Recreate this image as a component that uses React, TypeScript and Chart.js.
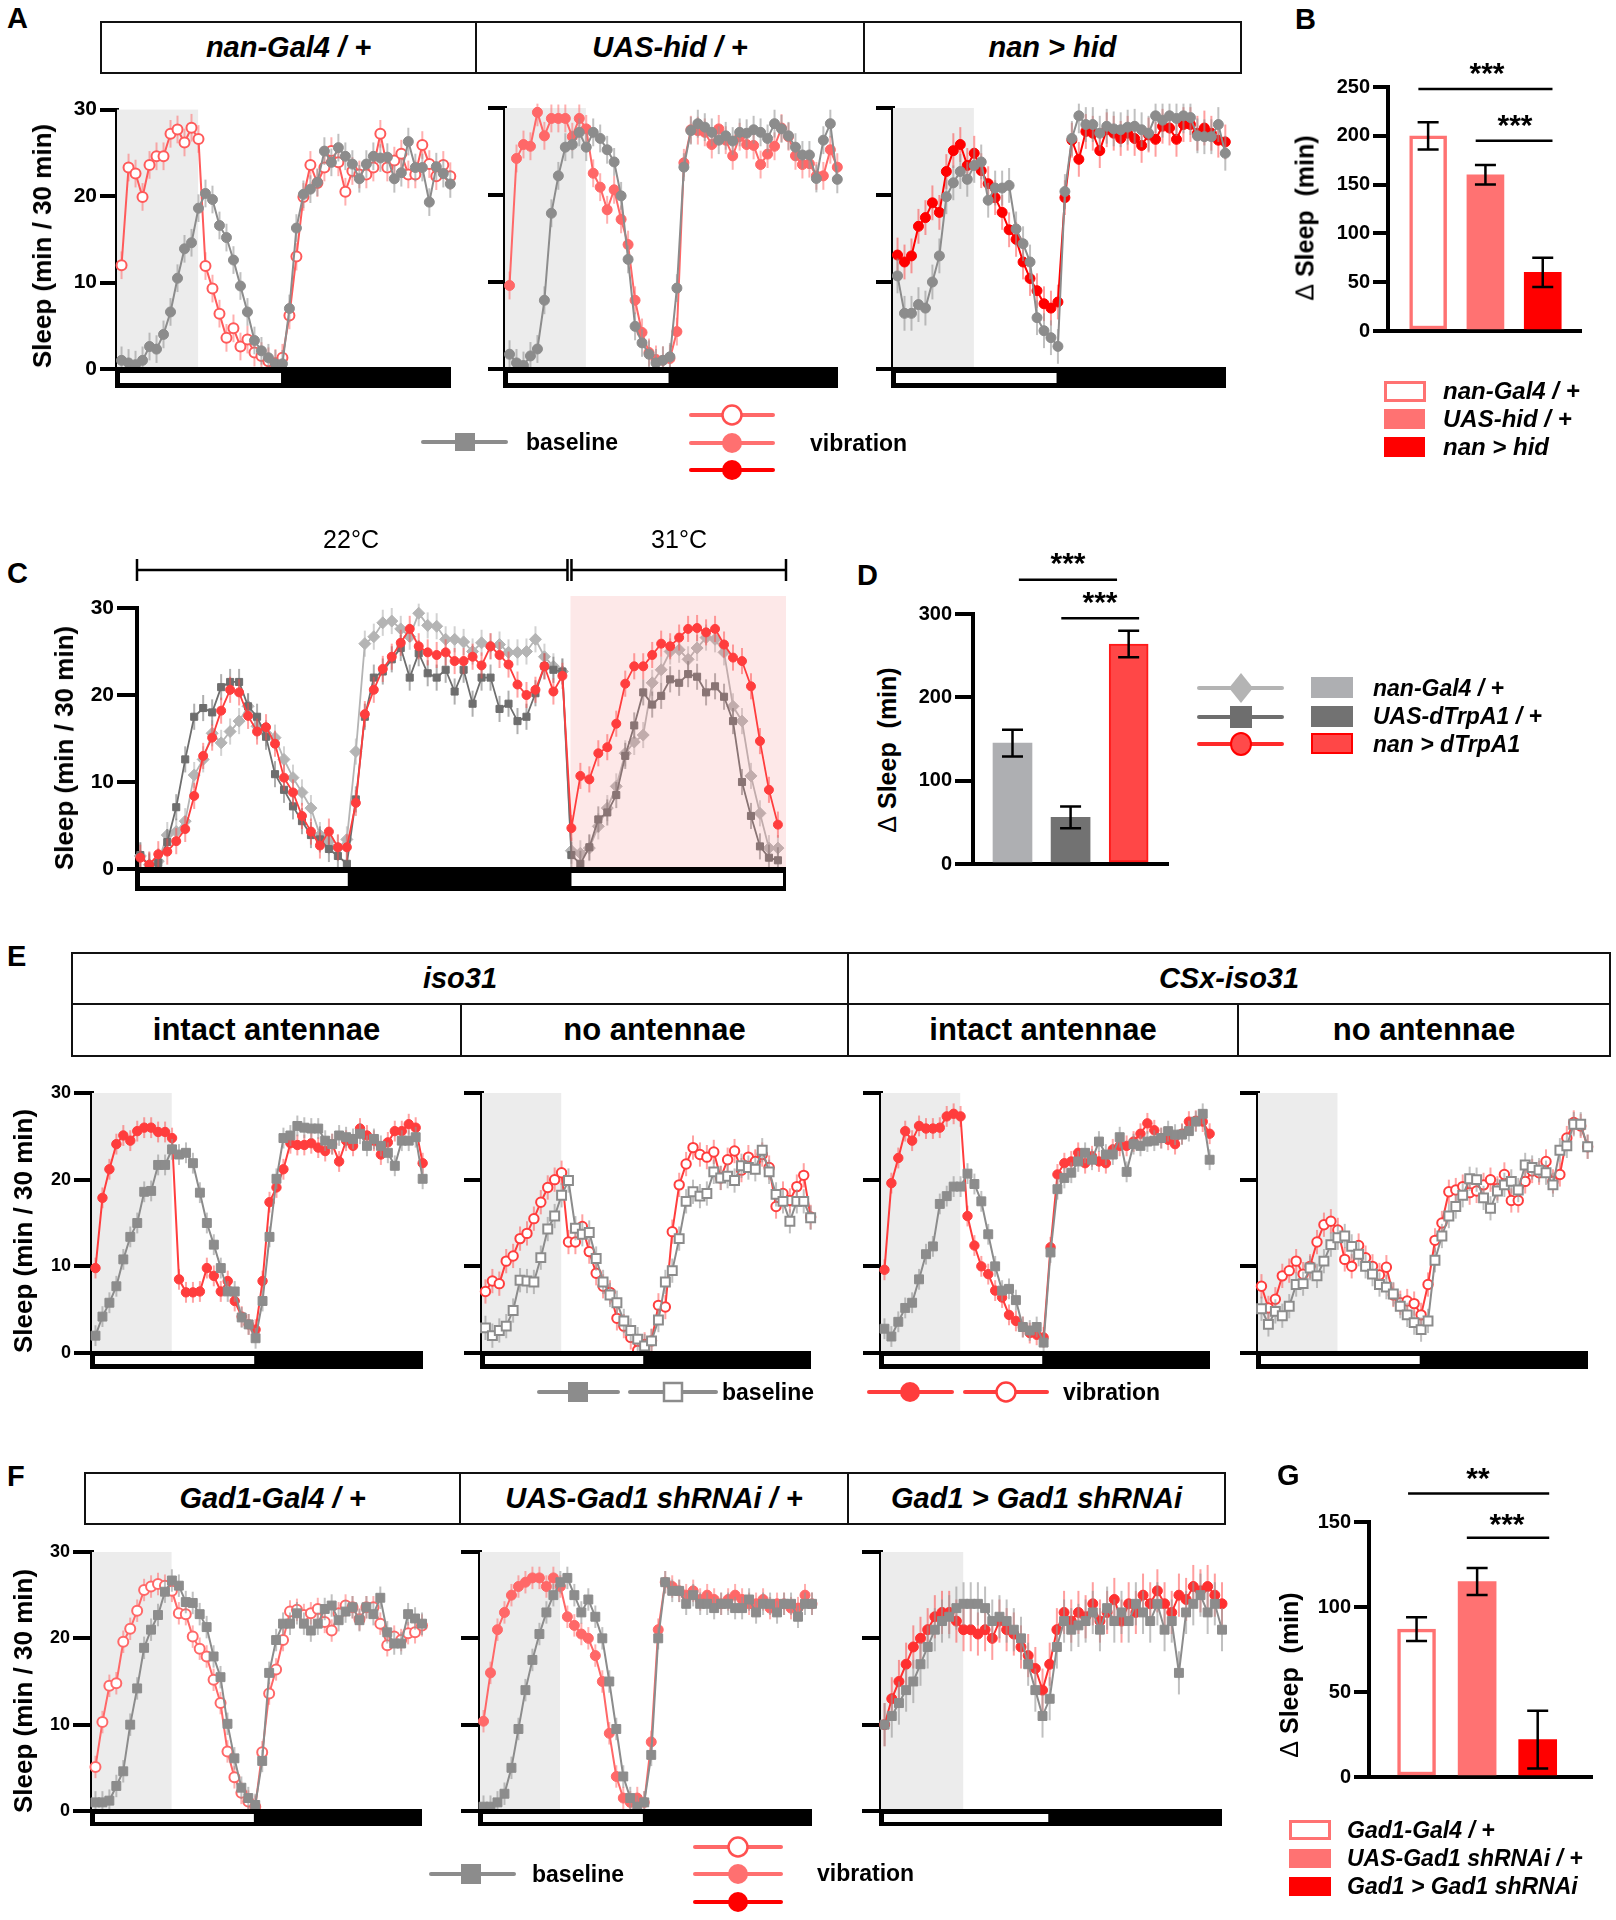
import React, { useEffect, useRef } from "react";
import { Chart, registerables } from "chart.js";
Chart.register(...registerables);

const FONT = '"Liberation Sans", Arial, Helvetica, sans-serif';

// ---------------- tick labels ----------------
const sleepTicks = [0, 10, 20, 30];
const bTicks = [0, 50, 100, 150, 200, 250];
const dTicks = [0, 100, 200, 300];
const gTicks = [0, 50, 100, 150];

// ---------------- Panel A (48 half-hour bins) ----------------
const a1Baseline = [1.0, 0.7, 0.5, 1.0, 2.6, 2.3, 4.0, 6.6, 10.5, 13.9, 14.6, 18.6, 20.3, 19.6, 16.6, 15.2, 12.6, 9.6, 6.6, 3.3, 2.1, 1.3, 0.6, 0.6, 7.0, 16.3, 20.2, 20.8, 21.6, 25.2, 23.9, 25.6, 24.6, 23.7, 22.0, 23.7, 24.6, 24.4, 24.5, 22.0, 22.7, 26.3, 23.3, 23.3, 19.3, 23.4, 22.6, 21.4];
const a1Vibration = [12.0, 23.3, 22.6, 19.9, 23.6, 24.6, 24.6, 27.2, 27.7, 26.2, 27.9, 26.6, 11.9, 9.3, 6.4, 3.6, 4.7, 2.6, 3.4, 1.9, 1.5, 0.9, 0.7, 1.3, 6.2, 13.0, 19.9, 23.6, 21.5, 23.3, 25.2, 23.9, 20.5, 22.9, 22.5, 22.5, 23.3, 27.2, 23.3, 24.1, 24.9, 22.5, 22.5, 25.9, 23.7, 22.3, 23.6, 22.3];
const a2Baseline = [1.7, 0.7, 0.4, 1.5, 2.3, 7.9, 17.9, 22.2, 25.5, 25.8, 27.2, 25.5, 27.2, 26.5, 25.2, 23.8, 19.9, 12.6, 4.9, 3.0, 1.7, 0.7, 1.0, 1.4, 9.3, 23.2, 27.4, 28.2, 27.8, 27.2, 26.3, 26.8, 26.2, 27.2, 27.1, 27.5, 27.2, 26.5, 28.2, 27.6, 26.8, 25.5, 24.6, 24.6, 21.9, 26.3, 28.2, 21.8];
const a2Vibration = [9.6, 24.2, 25.8, 25.6, 29.5, 26.8, 28.8, 28.8, 28.8, 26.7, 28.8, 27.6, 22.5, 20.9, 18.3, 20.6, 17.2, 14.3, 7.9, 4.2, 1.9, 1.1, 1.0, 1.2, 4.3, 23.7, 27.5, 27.4, 27.2, 25.8, 27.6, 26.3, 24.5, 26.7, 25.8, 25.7, 23.5, 24.7, 25.6, 27.7, 26.7, 24.5, 23.5, 23.6, 22.2, 22.2, 25.2, 23.2];
const a3Baseline = [10.7, 6.4, 6.4, 7.4, 7.0, 10.0, 13.0, 19.8, 21.4, 22.7, 21.8, 23.4, 23.8, 19.4, 20.8, 20.8, 21.1, 16.1, 14.4, 12.3, 5.9, 4.4, 3.6, 2.6, 20.4, 26.5, 29.1, 28.1, 28.1, 27.1, 27.9, 27.6, 27.5, 27.8, 27.9, 27.5, 27.1, 29.1, 28.6, 29.1, 28.8, 29.1, 28.9, 26.8, 26.7, 26.7, 28.1, 24.8];
const a3Vibration = [13.1, 12.3, 13.0, 16.4, 17.4, 19.1, 18.0, 22.7, 25.1, 25.8, 23.4, 24.8, 22.8, 21.3, 19.7, 18.0, 16.0, 14.9, 12.3, 10.4, 9.0, 7.5, 7.0, 7.7, 19.7, 26.3, 24.1, 27.3, 27.1, 25.1, 27.5, 27.1, 26.5, 27.1, 26.5, 25.7, 26.9, 26.4, 27.9, 27.7, 26.4, 28.1, 28.1, 27.1, 27.7, 27.1, 26.3, 26.1];

// ---------------- Panel B ----------------
const bGenotypes = ["nan-Gal4 / +", "UAS-hid / +", "nan > hid"];
const bDeltaSleep = [200, 160, 60];
const bSem = [14, 10, 15];

// ---------------- Panel C (72 half-hour bins: 22°C day + 31°C light) ----------------
const cNanGal4 = [1.5, 0.5, 0.9, 3.9, 4.3, 5.5, 10.8, 12.6, 15.6, 14.5, 15.8, 17.0, 18.7, 16.4, 15.6, 15.1, 12.6, 10.5, 8.8, 7.0, 3.9, 3.2, 2.4, 3.4, 13.5, 25.9, 26.7, 28.3, 28.5, 27.6, 26.7, 29.4, 28.0, 27.9, 26.4, 26.4, 26.1, 25.0, 26.0, 25.6, 25.8, 24.9, 24.9, 25.0, 26.4, 24.4, 23.3, 22.7, 2.1, 1.8, 2.4, 4.9, 7.0, 9.5, 13.3, 14.6, 15.4, 21.4, 22.9, 25.0, 25.2, 24.1, 25.4, 26.6, 26.4, 24.9, 18.7, 17.0, 10.7, 6.4, 2.4, 2.4];
const cUasTrpA1 = [1.6, 0.3, 0.7, 3.1, 7.1, 12.6, 17.5, 18.5, 18.0, 20.9, 21.5, 21.5, 18.7, 17.5, 15.2, 10.9, 9.1, 7.2, 5.5, 3.9, 3.4, 2.3, 1.5, 0.6, 8.0, 17.5, 22.0, 22.7, 24.1, 25.4, 22.0, 24.8, 22.5, 22.0, 22.9, 20.4, 22.9, 19.0, 22.0, 22.0, 18.4, 19.0, 17.0, 17.5, 20.2, 23.3, 22.9, 22.7, 1.6, 0.6, 2.5, 5.7, 6.5, 8.5, 13.0, 16.5, 20.3, 18.9, 19.9, 21.8, 21.4, 22.4, 22.1, 20.3, 21.0, 19.8, 17.0, 10.0, 6.1, 2.6, 1.3, 1.0];
const cNanTrpA1 = [1.3, 0.5, 1.7, 2.0, 3.2, 4.6, 8.4, 13.0, 15.1, 18.2, 20.6, 20.3, 17.6, 15.8, 16.3, 14.4, 10.5, 8.8, 6.1, 4.3, 2.7, 4.3, 2.5, 2.5, 7.6, 17.8, 20.6, 23.0, 24.4, 26.0, 27.6, 25.6, 24.9, 24.6, 24.9, 23.9, 23.9, 24.4, 23.4, 25.6, 24.6, 23.5, 21.2, 20.0, 20.6, 23.3, 20.4, 22.2, 4.7, 10.7, 10.3, 13.3, 14.0, 16.7, 21.3, 23.3, 23.3, 24.6, 25.9, 25.6, 26.6, 27.6, 27.7, 27.2, 27.6, 25.8, 24.3, 23.9, 21.0, 14.7, 9.1, 5.1];

// ---------------- Panel D ----------------
const dGenotypes = ["nan-Gal4 / +", "UAS-dTrpA1 / +", "nan > dTrpA1"];
const dDeltaSleep = [145, 56, 264];
const dSem = [16, 13, 16];

// ---------------- Panel E ----------------
const e1Baseline = [2.0, 4.2, 5.8, 7.7, 10.8, 13.4, 15.0, 18.6, 18.7, 21.7, 21.7, 23.5, 22.9, 23.1, 21.9, 18.5, 15.0, 12.5, 9.8, 7.1, 7.1, 4.1, 3.3, 1.7, 6.0, 13.4, 20.1, 24.8, 25.1, 26.2, 26.0, 25.9, 25.9, 24.5, 24.1, 25.1, 24.9, 24.7, 25.3, 23.9, 24.7, 23.9, 23.1, 21.6, 24.5, 24.5, 24.9, 20.1];
const e1Vibration = [9.8, 17.9, 21.2, 24.1, 25.1, 24.5, 25.6, 26.0, 26.0, 25.5, 25.5, 24.8, 8.5, 7.0, 7.0, 7.1, 9.8, 8.9, 7.1, 8.3, 6.0, 4.2, 3.3, 2.7, 8.3, 17.4, 19.1, 21.2, 24.2, 24.0, 24.0, 24.2, 23.7, 23.3, 24.1, 22.1, 24.5, 23.9, 25.9, 25.1, 24.5, 22.9, 24.3, 25.6, 25.6, 26.4, 26.0, 21.9];
const e2Baseline = [2.9, 2.0, 2.6, 3.1, 4.9, 8.4, 8.3, 8.2, 11.0, 14.3, 15.8, 18.2, 19.9, 14.4, 13.7, 13.9, 10.9, 8.2, 6.7, 5.8, 3.7, 2.6, 1.6, 0.8, 1.4, 3.8, 8.2, 9.5, 13.2, 17.5, 18.6, 18.1, 18.4, 20.9, 20.2, 20.4, 19.9, 21.6, 21.4, 21.2, 23.4, 20.9, 18.3, 17.5, 15.2, 17.5, 17.5, 15.6];
const e2Vibration = [7.1, 8.3, 8.0, 10.6, 11.2, 13.2, 13.8, 15.5, 17.4, 19.1, 20.0, 20.8, 12.8, 12.8, 14.6, 11.7, 9.2, 7.7, 7.0, 4.0, 3.1, 1.8, 0.3, 1.0, 1.4, 5.5, 5.3, 14.0, 19.4, 21.8, 23.7, 22.9, 22.6, 23.2, 20.2, 22.3, 23.3, 21.1, 22.6, 22.1, 22.9, 21.4, 16.9, 18.4, 17.6, 19.2, 20.5, 15.7];
const e3Baseline = [2.8, 1.9, 3.6, 5.2, 5.8, 8.5, 11.4, 12.3, 17.2, 18.1, 19.2, 19.2, 20.7, 19.5, 17.5, 13.7, 10.0, 7.2, 7.4, 6.1, 3.0, 2.6, 3.0, 1.2, 11.6, 18.9, 20.2, 20.8, 22.1, 23.1, 22.3, 24.4, 22.9, 22.9, 24.9, 20.9, 24.1, 23.9, 24.4, 24.5, 24.8, 25.6, 25.2, 25.2, 25.6, 26.7, 27.6, 22.3];
const e3Vibration = [9.6, 19.6, 22.5, 25.6, 24.5, 26.2, 25.9, 25.9, 26.0, 27.3, 27.6, 27.3, 15.8, 12.4, 10.0, 9.1, 7.2, 6.4, 4.4, 3.7, 3.0, 2.3, 2.1, 1.8, 12.2, 20.6, 21.9, 22.1, 23.1, 21.9, 22.7, 22.1, 21.9, 23.5, 23.9, 23.9, 24.4, 25.3, 26.5, 25.7, 24.8, 24.6, 24.1, 25.3, 26.7, 26.8, 26.7, 25.3];
const e4Baseline = [5.1, 3.3, 4.8, 4.3, 5.4, 7.9, 8.0, 9.8, 8.9, 10.6, 12.5, 13.3, 13.5, 12.3, 11.4, 10.0, 9.1, 7.9, 7.6, 6.8, 5.4, 4.4, 3.5, 2.7, 3.7, 10.7, 13.5, 15.8, 16.9, 18.2, 20.1, 20.0, 17.9, 16.7, 18.7, 19.4, 19.8, 18.8, 21.7, 21.4, 21.1, 20.8, 19.4, 23.4, 23.9, 26.4, 26.4, 23.8];
const e4Vibration = [7.7, 5.2, 6.2, 8.9, 9.5, 10.6, 9.1, 10.0, 12.8, 14.8, 15.2, 14.2, 10.8, 10.0, 12.4, 11.0, 10.0, 9.0, 9.9, 6.7, 5.8, 6.0, 5.7, 4.4, 7.9, 13.0, 15.0, 18.6, 18.8, 19.2, 18.5, 18.7, 19.4, 20.0, 19.0, 20.6, 17.6, 17.6, 19.8, 21.0, 20.8, 22.1, 19.8, 20.6, 24.8, 26.6, 26.2, 23.8];

// ---------------- Panel F ----------------
const f1Baseline = [1.0, 1.0, 1.2, 2.9, 4.6, 10.0, 14.2, 18.9, 21.0, 22.7, 25.4, 26.7, 26.1, 24.2, 24.1, 22.8, 21.3, 17.9, 15.5, 10.1, 6.1, 2.7, 1.5, 0.7, 5.8, 16.0, 19.8, 21.7, 21.7, 22.9, 21.7, 20.9, 21.7, 23.4, 23.8, 22.1, 23.1, 23.6, 22.1, 23.6, 22.8, 24.7, 20.7, 19.4, 19.4, 22.8, 22.3, 21.7];
const f1Vibration = [5.1, 10.3, 14.5, 14.8, 19.6, 21.1, 23.2, 25.6, 26.0, 26.3, 26.1, 25.5, 22.9, 22.8, 20.2, 18.8, 17.9, 15.2, 12.5, 6.9, 3.9, 2.1, 1.1, 0.5, 6.8, 13.6, 16.4, 19.8, 23.1, 23.3, 22.7, 22.9, 23.4, 21.9, 20.9, 22.9, 23.8, 23.6, 22.2, 23.6, 23.6, 21.7, 19.2, 20.2, 19.8, 20.6, 20.7, 21.5];
const f2Baseline = [0.5, 0.5, 1.0, 2.0, 5.0, 9.5, 14.0, 17.5, 20.5, 23.0, 25.0, 26.5, 27.0, 25.0, 23.0, 24.5, 22.5, 20.0, 15.0, 9.5, 4.0, 1.5, 0.5, 1.0, 6.5, 20.0, 26.5, 25.5, 25.5, 24.0, 25.0, 24.0, 24.0, 23.5, 24.0, 24.0, 23.5, 23.5, 24.5, 23.0, 24.0, 24.0, 23.0, 24.0, 24.0, 22.5, 24.0, 24.0];
const f2Vibration = [10.4, 16.0, 21.0, 23.0, 25.0, 26.0, 26.5, 27.0, 27.0, 26.0, 27.0, 26.0, 22.5, 21.5, 20.5, 20.0, 18.0, 15.0, 9.0, 4.0, 1.5, 1.0, 1.5, 1.0, 8.0, 21.0, 26.5, 26.0, 25.5, 25.0, 25.5, 24.5, 25.0, 24.5, 24.0, 24.5, 25.0, 24.5, 24.0, 24.0, 24.5, 23.5, 24.0, 24.0, 23.5, 23.5, 25.0, 24.0];
const f3Baseline = [10, 11, 12.5, 14, 15, 17, 19, 21, 22, 22.5, 23.5, 24, 24, 24, 23.5, 22, 22.5, 22, 21, 20, 17, 14, 11, 13, 19, 22, 21, 21.5, 22, 23, 21, 23.5, 22, 23, 22, 24, 23, 22, 24, 21, 22, 16, 23, 24, 25, 23, 24, 21];
const f3Vibration = [10, 13, 15, 17, 19, 20, 21, 22.5, 23, 23, 22, 21, 21, 20.5, 21, 20, 22, 21, 20.5, 19, 18, 16.5, 14, 17, 21, 23, 22, 23, 22.5, 24, 22, 23, 24.5, 22, 24, 23, 25, 24, 25.5, 24, 23, 25, 24.5, 26, 25.5, 26, 25, 24];

// ---------------- Panel G ----------------
const gGenotypes = ["Gad1-Gal4 / +", "UAS-Gad1 shRNAi / +", "Gad1 > Gad1 shRNAi"];
const gDeltaSleep = [87, 115, 22];
const gSem = [7, 8, 17];

// ---------------- styling ----------------
const GRAY = "#8c8c8c";
const GRAY_ERR = "rgba(150,150,150,0.6)";
const SALMON = "#ff6868";
const SALMON_ERR = "rgba(255,110,110,0.55)";
const RED = "#ff0000";
const RED_ERR = "rgba(255,40,40,0.45)";
const ERED = "#ff3d3d";
const ERED_ERR = "rgba(255,70,70,0.5)";

function ser(data: number[], color: string, errColor: string, err: number, style: string, radius: number, open = false, lineWidth = 2) {
  return { data, color, errColor, err, style, radius, open, lineWidth };
}

function decor(spec: any) {
  return {
    id: "decor",
    beforeDatasetsDraw(chart: any) {
      if (spec.shadeEnd == null) return;
      const { ctx, chartArea: a, scales } = chart;
      const x2 = scales.x.getPixelForValue(spec.shadeEnd);
      ctx.save();
      ctx.fillStyle = "#ececec";
      ctx.fillRect(a.left, a.top, x2 - a.left, a.bottom - a.top);
      ctx.restore();
    },
    beforeDatasetDraw(chart: any, args: any) {
      const { ctx, chartArea: a, scales } = chart;
      if (spec.pinkStart != null && args.index === 0) {
        const px = scales.x.getPixelForValue(spec.pinkStart);
        ctx.save();
        ctx.fillStyle = "rgba(245,140,140,0.2)";
        ctx.fillRect(px, a.top - 12, a.right - px, a.bottom - a.top + 12);
        ctx.restore();
      }
      const ds = chart.data.datasets[args.index];
      if (ds.err == null) return;
      ctx.save();
      ctx.strokeStyle = ds.errColor;
      ctx.lineWidth = 2;
      args.meta.data.forEach((pt: any, i: number) => {
        const v = ds.data[i].y;
        ctx.beginPath();
        ctx.moveTo(pt.x, scales.y.getPixelForValue(Math.min(30.5, v + ds.err)));
        ctx.lineTo(pt.x, scales.y.getPixelForValue(Math.max(0, v - ds.err)));
        ctx.stroke();
      });
      ctx.restore();
    },
    afterDraw(chart: any) {
      const { ctx, chartArea: a, scales } = chart;
      const px = (v: number) => scales.x.getPixelForValue(v);
      const ld = spec.ld;
      if (ld) {
        ctx.save();
        ctx.fillStyle = "#000";
        ctx.fillRect(a.left - 2, a.bottom - 2, a.right - a.left + 2, ld.h);
        ctx.fillStyle = "#fff";
        for (const [s, e] of ld.white) {
          const x1 = s == null ? a.left + 3 : px(s) + 1;
          const x2 = e == null ? a.right - 3 : px(e);
          ctx.fillRect(x1, a.bottom + ld.wt, x2 - x1, ld.wh);
        }
        ctx.restore();
      }
      if (spec.bracket) {
        const y0 = a.top - spec.bracket.dy;
        const sp = px(spec.bracket.split);
        ctx.save();
        ctx.strokeStyle = "#000";
        ctx.lineWidth = 2.5;
        ctx.beginPath();
        ctx.moveTo(a.left, y0); ctx.lineTo(sp - 3, y0);
        ctx.moveTo(sp + 1, y0); ctx.lineTo(a.right, y0);
        for (const xx of [a.left, sp - 3, sp + 1, a.right]) {
          ctx.moveTo(xx, y0 - 11); ctx.lineTo(xx, y0 + 11);
        }
        ctx.stroke();
        ctx.restore();
      }
    },
  };
}

function yAxis(spec: any, max: number, ticks: number[]) {
  return {
    type: "linear",
    min: 0,
    max,
    afterBuildTicks: (s: any) => { s.ticks = ticks.map((v) => ({ value: v })); },
    afterFit: (s: any) => { s.width = spec.axisW; },
    border: { display: true, color: "#000", width: 4 },
    grid: { display: true, drawOnChartArea: false, drawTicks: true, tickLength: spec.tickLen, tickWidth: 4, tickColor: "#000", color: "#000", lineWidth: 4 },
    ticks: { display: spec.labels, color: "#000", padding: 3, font: { family: FONT, size: spec.tickFont, weight: "bold" } },
  };
}

function lineConfig(spec: any) {
  const datasets = spec.series.map((s: any) => ({
    data: s.data.map((v: number, i: number) => ({ x: i, y: v })),
    err: s.err,
    errColor: s.errColor,
    borderColor: s.color,
    borderWidth: s.lineWidth,
    pointStyle: s.style,
    pointRadius: s.radius,
    pointHoverRadius: s.radius,
    pointBackgroundColor: s.open ? "#ffffff" : s.color,
    pointBorderColor: s.color,
    pointBorderWidth: s.open ? 2 : 1,
    tension: 0,
    fill: false,
    clip: false,
  }));
  return {
    type: "line",
    data: { datasets },
    options: {
      responsive: false,
      animation: false,
      devicePixelRatio: 1,
      events: [],
      layout: { padding: { left: 0, top: spec.padTop, right: spec.padRight, bottom: spec.padBottom }, autoPadding: false },
      plugins: { legend: { display: false }, tooltip: { enabled: false } },
      scales: {
        x: { type: "linear", display: false, min: spec.xMin, max: spec.xMax },
        y: yAxis(spec, 30, sleepTicks),
      },
    },
    plugins: [decor(spec)],
  };
}

function barConfig(spec: any) {
  return {
    type: "bar",
    data: {
      datasets: [{
        data: spec.values.map((v: number, i: number) => ({ x: i, y: v })),
        backgroundColor: spec.fill,
        borderColor: spec.stroke,
        borderWidth: spec.strokeW,
        borderSkipped: false,
        barThickness: spec.barW,
      }],
    },
    options: {
      responsive: false,
      animation: false,
      devicePixelRatio: 1,
      events: [],
      layout: { padding: { left: 0, top: spec.padTop, right: spec.padRight, bottom: spec.padBottom }, autoPadding: false },
      plugins: { legend: { display: false }, tooltip: { enabled: false } },
      scales: {
        x: {
          type: "linear", offset: false, min: spec.xMin, max: spec.xMax,
          afterFit: (s: any) => { s.height = 0; },
          border: { display: true, color: "#000", width: 4 },
          grid: { display: true, drawOnChartArea: false, drawTicks: false, color: "#000", lineWidth: 4 },
          ticks: { display: false },
        },
        y: yAxis(spec, spec.yMax, spec.ticks),
      },
    },
    plugins: [{
      id: "barDecor",
      afterDatasetsDraw(chart: any) {
        const { ctx, scales } = chart;
        const meta = chart.getDatasetMeta(0);
        ctx.save();
        ctx.strokeStyle = "#000";
        ctx.lineWidth = 2.5;
        meta.data.forEach((bar: any, i: number) => {
          const v = spec.values[i], e = spec.errs[i];
          const yT = scales.y.getPixelForValue(v + e), yB = scales.y.getPixelForValue(v - e);
          ctx.beginPath();
          ctx.moveTo(bar.x, yT); ctx.lineTo(bar.x, yB);
          ctx.moveTo(bar.x - 10.5, yT); ctx.lineTo(bar.x + 10.5, yT);
          ctx.moveTo(bar.x - 10.5, yB); ctx.lineTo(bar.x + 10.5, yB);
          ctx.stroke();
        });
        for (const s of spec.sig) {
          const yy = scales.y.getPixelForValue(s.v);
          ctx.beginPath();
          ctx.moveTo(scales.x.getPixelForValue(s.x1), yy);
          ctx.lineTo(scales.x.getPixelForValue(s.x2), yy);
          ctx.stroke();
        }
        ctx.restore();
      },
    }],
  };
}

function ChartCanvas({ spec, build }: any) {
  const ref = useRef<HTMLCanvasElement>(null);
  const left = spec.plot.l - spec.axisW;
  const top = spec.plot.t - spec.padTop;
  const width = spec.plot.r + spec.padRight - left;
  const height = spec.plot.b + spec.padBottom - top;
  useEffect(() => {
    const chart = new Chart(ref.current as HTMLCanvasElement, build(spec) as any);
    return () => chart.destroy();
  }, []);
  return <canvas ref={ref} width={width} height={height} style={{ position: "absolute", left, top, width, height }} />;
}

const base = { axisW: 70, padTop: 14, padRight: 12, padBottom: 30 };
const ldA = { h: 21, wt: 4, wh: 10, white: [[null, 22.8]] };
const ldE = { h: 18, wt: 3, wh: 8, white: [[null, 22.8]] };
const ldF = { h: 17, wt: 3, wh: 8, white: [[null, 22.8]] };

const lineSpecs: any[] = [
  // Panel A
  { ...base, plot: { l: 117, r: 451, t: 108, b: 369 }, xMin: -0.65, xMax: 47.1, labels: true, tickLen: 17, tickFont: 21, ld: ldA, shadeEnd: 10.95,
    series: [ser(a1Baseline, GRAY, GRAY_ERR, 1.6, "circle", 5), ser(a1Vibration, "#ff5a5a", SALMON_ERR, 1.6, "circle", 5, true)] },
  { ...base, plot: { l: 505, r: 838, t: 108, b: 369 }, xMin: -0.65, xMax: 47.1, labels: false, tickLen: 17, tickFont: 21, ld: ldA, shadeEnd: 10.95,
    series: [ser(a2Baseline, GRAY, GRAY_ERR, 1.6, "circle", 5), ser(a2Vibration, SALMON, SALMON_ERR, 1.6, "circle", 5)] },
  { ...base, plot: { l: 893, r: 1226, t: 108, b: 369 }, xMin: -0.65, xMax: 47.1, labels: false, tickLen: 17, tickFont: 21, ld: ldA, shadeEnd: 10.95,
    series: [ser(a3Baseline, GRAY, GRAY_ERR, 2.0, "circle", 5), ser(a3Vibration, RED, RED_ERR, 2.0, "circle", 5)] },
  // Panel C
  { ...base, padTop: 70, plot: { l: 137, r: 786, t: 608, b: 869 }, xMin: -0.37, xMax: 71.9, labels: true, tickLen: 20, tickFont: 21,
    ld: { h: 24, wt: 4, wh: 13, white: [[null, 23.1], [47.9, null]] }, pinkStart: 47.9, bracket: { split: 47.9, dy: 38 },
    series: [
      ser(cNanTrpA1, ERED, ERED_ERR, 1.5, "circle", 4.5, false, 1.8),
      ser(cUasTrpA1, "#6e6e6e", "rgba(110,110,110,0.55)", 1.5, "rect", 5, false, 1.8),
      ser(cNanGal4, "#b4b4b4", "rgba(180,180,180,0.6)", 1.5, "rectRot", 6, false, 1.8),
    ] },
  // Panel E
  { ...base, plot: { l: 92, r: 423, t: 1093, b: 1353 }, xMin: -0.5, xMax: 47.05, labels: true, tickLen: 18, tickFont: 18, ld: ldE, shadeEnd: 10.95,
    series: [ser(e1Baseline, GRAY, GRAY_ERR, 1.2, "rect", 6.3), ser(e1Vibration, ERED, ERED_ERR, 1.2, "circle", 4.7)] },
  { ...base, plot: { l: 482, r: 811, t: 1093, b: 1353 }, xMin: -0.5, xMax: 47.05, labels: false, tickLen: 18, tickFont: 18, ld: ldE, shadeEnd: 10.95,
    series: [ser(e2Baseline, GRAY, GRAY_ERR, 1.4, "rect", 6.3, true), ser(e2Vibration, ERED, ERED_ERR, 1.4, "circle", 4.7, true)] },
  { ...base, plot: { l: 881, r: 1210, t: 1093, b: 1353 }, xMin: -0.5, xMax: 47.05, labels: false, tickLen: 18, tickFont: 18, ld: ldE, shadeEnd: 10.95,
    series: [ser(e3Baseline, GRAY, GRAY_ERR, 1.2, "rect", 6.3), ser(e3Vibration, ERED, ERED_ERR, 1.2, "circle", 4.7)] },
  { ...base, plot: { l: 1258, r: 1588, t: 1093, b: 1353 }, xMin: -0.5, xMax: 47.05, labels: false, tickLen: 18, tickFont: 18, ld: ldE, shadeEnd: 10.95,
    series: [ser(e4Baseline, GRAY, GRAY_ERR, 1.4, "rect", 6.3, true), ser(e4Vibration, ERED, ERED_ERR, 1.4, "circle", 4.7, true)] },
  // Panel F
  { ...base, plot: { l: 92, r: 422, t: 1552, b: 1811 }, xMin: -0.5, xMax: 47.0, labels: true, tickLen: 19, tickFont: 18, ld: ldF, shadeEnd: 10.95,
    series: [ser(f1Baseline, GRAY, GRAY_ERR, 1.3, "rect", 6.3), ser(f1Vibration, SALMON, SALMON_ERR, 1.3, "circle", 5, true)] },
  { ...base, plot: { l: 480, r: 812, t: 1552, b: 1811 }, xMin: -0.5, xMax: 47.0, labels: false, tickLen: 19, tickFont: 18, ld: ldF, shadeEnd: 10.95,
    series: [ser(f2Baseline, GRAY, GRAY_ERR, 1.3, "rect", 6.3), ser(f2Vibration, SALMON, SALMON_ERR, 1.3, "circle", 5)] },
  { ...base, plot: { l: 881, r: 1222, t: 1552, b: 1811 }, xMin: -0.5, xMax: 47.0, labels: false, tickLen: 19, tickFont: 18, ld: ldF, shadeEnd: 10.95,
    series: [ser(f3Baseline, GRAY, GRAY_ERR, 2.5, "rect", 6.3), ser(f3Vibration, "#ff3030", RED_ERR, 2.5, "circle", 5)] },
];

const barSpecs: any[] = [
  { ...base, padTop: 15, padBottom: 10, plot: { l: 1388, r: 1580, t: 87, b: 336 }, yMax: 250, ticks: bTicks, labels: true, tickLen: 15, tickFont: 20,
    xMin: -0.7, xMax: 2.65, barW: 37, values: bDeltaSleep, errs: bSem, cats: bGenotypes,
    fill: ["#ffffff", "#ff7272", "#ff0000"], stroke: ["#ff7272", "#ff7272", "#ff0000"], strokeW: [3.5, 0, 0],
    sig: [{ x1: -0.17, x2: 2.17, v: 248 }, { x1: 0.83, x2: 2.17, v: 195 }] },
  { ...base, padTop: 50, padBottom: 10, plot: { l: 973, r: 1167, t: 614, b: 869 }, yMax: 300, ticks: dTicks, labels: true, tickLen: 18, tickFont: 20,
    xMin: -0.68, xMax: 2.66, barW: 39, values: dDeltaSleep, errs: dSem, cats: dGenotypes,
    fill: ["#aeafb2", "#727272", "#ff4747"], stroke: ["#aeafb2", "#727272", "#ff1a1a"], strokeW: [0, 0, 2],
    sig: [{ x1: 0.11, x2: 1.8, v: 341 }, { x1: 0.84, x2: 2.18, v: 295 }] },
  { ...base, padTop: 42, padBottom: 10, plot: { l: 1369, r: 1591, t: 1522, b: 1782 }, yMax: 150, ticks: gTicks, labels: true, tickLen: 15, tickFont: 20,
    xMin: -0.785, xMax: 2.88, barW: 38, values: gDeltaSleep, errs: gSem, cats: gGenotypes,
    fill: ["#ffffff", "#ff7272", "#ff0000"], stroke: ["#ff7272", "#ff7272", "#ff0000"], strokeW: [3.5, 0, 0],
    sig: [{ x1: -0.14, x2: 2.19, v: 166.7 }, { x1: 0.83, x2: 2.19, v: 140.8 }] },
];

function T({ x, y, size, bold = true, italic = false, align = "left", rotate = false, children, weight }: any) {
  const tx = rotate || align === "center" ? "-50%" : align === "right" ? "-100%" : "0";
  return (
    <div style={{
      position: "absolute", left: x, top: y, fontSize: size, lineHeight: 1, whiteSpace: "pre",
      fontWeight: weight ?? (bold ? "bold" : "normal"), fontStyle: italic ? "italic" : "normal", fontFamily: FONT,
      transform: `translate(${tx}, -50%)${rotate ? " rotate(-90deg)" : ""}`, color: "#000",
    }}>{children}</div>
  );
}

function Box({ x1, x2, y1, y2, size, italic = true, children }: any) {
  return (
    <div style={{
      position: "absolute", left: x1, top: y1, width: x2 - x1 + 2, height: y2 - y1 + 2, boxSizing: "border-box",
      border: "2px solid #111", display: "flex", alignItems: "center", justifyContent: "center",
      fontFamily: FONT, fontWeight: "bold", fontStyle: italic ? "italic" : "normal", fontSize: size, whiteSpace: "pre",
    }}>{children}</div>
  );
}

const SLEEP_TITLE = "Sleep (min / 30 min)";
const DELTA_TITLE = (<><span style={{ fontWeight: "normal" }}>Δ</span>{" Sleep  (min)"}</>);

function LegendLine({ x1, x2, y, color, w = 4 }: any) {
  return <line x1={x1} x2={x2} y1={y} y2={y} stroke={color} strokeWidth={w} strokeLinecap="round" />;
}

export default function App() {
  return (
    <div style={{ position: "absolute", left: 0, top: 0, width: 1616, height: 1920, background: "#fff", overflow: "hidden", fontFamily: FONT }}>
      {/* headers */}
      <Box x1={100} x2={475} y1={21} y2={72} size={29}>nan-Gal4 / +</Box>
      <Box x1={475} x2={863} y1={21} y2={72} size={29}>UAS-hid / +</Box>
      <Box x1={863} x2={1240} y1={21} y2={72} size={29}>{"nan > hid"}</Box>

      <Box x1={71} x2={847} y1={952} y2={1003} size={29}>iso31</Box>
      <Box x1={847} x2={1609} y1={952} y2={1003} size={29}>CSx-iso31</Box>
      <Box x1={71} x2={460} y1={1003} y2={1055} size={31} italic={false}>intact antennae</Box>
      <Box x1={460} x2={847} y1={1003} y2={1055} size={31} italic={false}>no antennae</Box>
      <Box x1={847} x2={1237} y1={1003} y2={1055} size={31} italic={false}>intact antennae</Box>
      <Box x1={1237} x2={1609} y1={1003} y2={1055} size={31} italic={false}>no antennae</Box>

      <Box x1={84} x2={459} y1={1472} y2={1523} size={29}>Gad1-Gal4 / +</Box>
      <Box x1={459} x2={847} y1={1472} y2={1523} size={29}>UAS-Gad1 shRNAi / +</Box>
      <Box x1={847} x2={1224} y1={1472} y2={1523} size={29}>{"Gad1 > Gad1 shRNAi"}</Box>

      {lineSpecs.map((s, i) => <ChartCanvas key={"l" + i} spec={s} build={lineConfig} />)}
      {barSpecs.map((s, i) => <ChartCanvas key={"b" + i} spec={s} build={barConfig} />)}

      {/* panel letters */}
      <T x={7} y={18} size={29}>A</T>
      <T x={1295} y={19} size={29}>B</T>
      <T x={7} y={573} size={29}>C</T>
      <T x={857} y={575} size={29}>D</T>
      <T x={7} y={956} size={29}>E</T>
      <T x={7} y={1476} size={29}>F</T>
      <T x={1277} y={1475} size={29}>G</T>

      {/* axis titles */}
      <T x={42} y={246} size={26} rotate>{SLEEP_TITLE}</T>
      <T x={64} y={748} size={26} rotate>{SLEEP_TITLE}</T>
      <T x={23} y={1231} size={26} rotate>{SLEEP_TITLE}</T>
      <T x={23} y={1691} size={26} rotate>{SLEEP_TITLE}</T>
      <T x={1305} y={218} size={25} rotate>{DELTA_TITLE}</T>
      <T x={887} y={750} size={25} rotate>{DELTA_TITLE}</T>
      <T x={1289} y={1675} size={25} rotate>{DELTA_TITLE}</T>

      {/* temperature labels */}
      <T x={351} y={539} size={25} bold={false} align="center">22°C</T>
      <T x={679} y={539} size={25} bold={false} align="center">31°C</T>

      {/* significance stars */}
      <T x={1487} y={73} size={30} align="center">***</T>
      <T x={1515} y={125} size={30} align="center">***</T>
      <T x={1068} y={563} size={30} align="center">***</T>
      <T x={1100} y={602} size={30} align="center">***</T>
      <T x={1478} y={1478} size={30} align="center">**</T>
      <T x={1507} y={1524} size={30} align="center">***</T>

      {/* legend symbols */}
      <svg width={1616} height={1920} style={{ position: "absolute", left: 0, top: 0, pointerEvents: "none" }}>
        {/* A legend */}
        <LegendLine x1={423} x2={506} y={442} color={GRAY} />
        <rect x={455} y={433} width={20} height={18} fill={GRAY} />
        <LegendLine x1={691} x2={773} y={415} color={SALMON} />
        <circle cx={732} cy={415} r={9.5} fill="#fff" stroke="#ff5050" strokeWidth={2.5} />
        <LegendLine x1={691} x2={773} y={443} color="#ff7070" />
        <circle cx={732} cy={443} r={10} fill="#ff7070" />
        <LegendLine x1={691} x2={773} y={470} color={RED} />
        <circle cx={732} cy={470} r={10} fill={RED} />
        {/* B legend */}
        <rect x={1385.5} y={382.5} width={39} height={18} fill="#fff" stroke="#ff7272" strokeWidth={3} />
        <rect x={1384} y={409} width={41} height={20} fill="#ff7272" />
        <rect x={1384} y={437} width={41} height={20} fill={RED} />
        {/* C/D legend */}
        <LegendLine x1={1199} x2={1282} y={688} color="#b4b4b4" />
        <polygon points="1241,673 1253,688 1241,703 1229,688" fill="#b4b4b4" />
        <LegendLine x1={1199} x2={1282} y={717} color="#6e6e6e" />
        <rect x={1230} y={706} width={22} height={22} fill="#6e6e6e" />
        <LegendLine x1={1199} x2={1282} y={744} color="#ff2a2a" />
        <ellipse cx={1241} cy={744} rx={10} ry={11} fill="#ff4a4a" stroke="#ff0000" strokeWidth={2} />
        <rect x={1311} y={677} width={42} height={21} fill="#aeafb2" />
        <rect x={1311} y={706} width={42} height={21} fill="#727272" />
        <rect x={1312} y={734} width={40} height={19} fill="#ff4747" stroke="#ff0000" strokeWidth={2} />
        {/* E legend */}
        <LegendLine x1={539} x2={618} y={1392} color={GRAY} />
        <rect x={568} y={1382} width={20} height={20} fill={GRAY} />
        <LegendLine x1={630} x2={716} y={1392} color={GRAY} />
        <rect x={664} y={1383} width={18} height={18} fill="#fff" stroke={GRAY} strokeWidth={2.5} />
        <LegendLine x1={869} x2={952} y={1392} color={ERED} />
        <circle cx={910} cy={1392} r={10} fill={ERED} />
        <LegendLine x1={965} x2={1047} y={1392} color={ERED} />
        <circle cx={1006} cy={1392} r={9.5} fill="#fff" stroke={ERED} strokeWidth={2.5} />
        {/* F legend */}
        <LegendLine x1={431} x2={514} y={1874} color={GRAY} />
        <rect x={461} y={1864} width={20} height={20} fill={GRAY} />
        <LegendLine x1={695} x2={781} y={1847} color={SALMON} />
        <circle cx={738} cy={1847} r={9.5} fill="#fff" stroke="#ff5050" strokeWidth={2.5} />
        <LegendLine x1={695} x2={781} y={1874} color="#ff7070" />
        <circle cx={738} cy={1874} r={10} fill="#ff7070" />
        <LegendLine x1={695} x2={781} y={1902} color={RED} />
        <circle cx={738} cy={1902} r={10} fill={RED} />
        {/* G legend */}
        <rect x={1290.5} y={1821.5} width={39} height={17} fill="#fff" stroke="#ff7272" strokeWidth={3} />
        <rect x={1289} y={1849} width={42} height={19} fill="#ff7272" />
        <rect x={1289} y={1877} width={42} height={19} fill={RED} />
      </svg>

      {/* legend texts */}
      <T x={526} y={442} size={23}>baseline</T>
      <T x={810} y={443} size={23}>vibration</T>
      {bGenotypes.map((g, i) => <T key={"bg" + i} x={1443} y={391 + 28 * i} size={24} italic>{g}</T>)}
      {dGenotypes.map((g, i) => <T key={"dg" + i} x={1373} y={688 + 28 * i} size={23} italic>{g}</T>)}
      <T x={722} y={1392} size={23}>baseline</T>
      <T x={1063} y={1392} size={23}>vibration</T>
      <T x={532} y={1874} size={23}>baseline</T>
      <T x={817} y={1873} size={23}>vibration</T>
      {gGenotypes.map((g, i) => <T key={"gg" + i} x={1347} y={1830 + 28 * i} size={23} italic>{g}</T>)}
    </div>
  );
}
